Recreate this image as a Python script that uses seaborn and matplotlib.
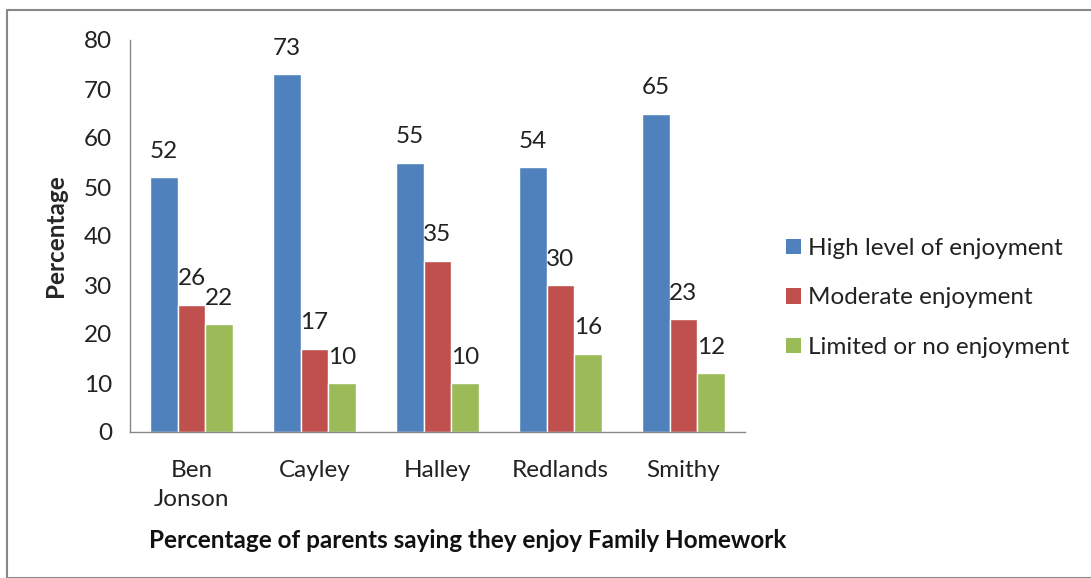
import matplotlib
matplotlib.use("Agg")
import matplotlib.pyplot as plt
import seaborn as sns
import pandas as pd
from matplotlib.patches import Rectangle, Patch

schools = ["Ben\nJonson", "Cayley", "Halley", "Redlands", "Smithy"]
series = ["High level of enjoyment", "Moderate enjoyment", "Limited or no enjoyment"]
high = [52, 73, 55, 54, 65]
moderate = [26, 17, 35, 30, 23]
limited = [22, 10, 10, 16, 12]
colors = ["#4F81BD", "#C0504D", "#9BBB59"]

rows = []
for s, vals in zip(series, [high, moderate, limited]):
    for sc, v in zip(schools, vals):
        rows.append({"School": sc, "Series": s, "Value": v})
df = pd.DataFrame(rows)

sns.set_style("white")
plt.rcParams["font.family"] = ["Lato", "DejaVu Sans"]

FS = 17.5
fig = plt.figure(figsize=(10.91, 5.78), dpi=100)
ax = fig.add_axes([130/1091, 1-432/578, 615/1091, 392/578])

sns.barplot(data=df, x="School", y="Value", hue="Series", palette=colors,
            width=0.667, saturation=1, ax=ax, legend=False, errorbar=None)

for cont in ax.containers:
    ax.bar_label(cont, labels=[f"{int(v)}" for v in cont.datavalues],
                 padding=11, fontsize=FS, color="#222222")

ax.set_ylim(0, 80)
ax.set_xlim(-0.5, 4.5)
ax.set_yticks(range(0, 81, 10))
ax.set_xticks([i - 0.5 for i in range(6)], minor=False)
ax.set_xticklabels([])
ax.set_xticks(range(5), minor=True)
ax.set_xticklabels(schools, minor=True, fontsize=FS, color="#222222", linespacing=1.5)
ax.tick_params(axis="x", which="minor", length=0, pad=20)
ax.tick_params(axis="x", which="major", length=6, color="#888888", direction="out")
ax.tick_params(axis="y", length=7, color="#888888", direction="out", labelsize=FS,
               labelcolor="#222222", pad=6)
ax.set_xlabel("")
ax.set_ylabel("Percentage", fontsize=FS, fontweight="bold", labelpad=12)
for sp in ["top", "right"]:
    ax.spines[sp].set_visible(False)
for sp in ["left", "bottom"]:
    ax.spines[sp].set_color("#888888")
    ax.spines[sp].set_linewidth(1)

fig.text(468/1091, 1-540/578, "Percentage of parents saying they enjoy Family Homework",
         ha="center", va="center", fontsize=FS, fontweight="bold", color="#111111")

handles = [Patch(facecolor=c, edgecolor="none") for c in colors]
fig.legend(handles, series, loc="center left", bbox_to_anchor=(764/1091, 1-298/578),
           frameon=False, fontsize=FS, handlelength=0.62, handleheight=0.62,
           handletextpad=0.3, labelspacing=1.17, labelcolor="#222222")

fig.patches.append(Rectangle((7/1091, 0), 1.1, 1-10/578, transform=fig.transFigure,
                             fill=False, edgecolor="#888888", linewidth=1.5))

fig.savefig("out.png", dpi=100)
